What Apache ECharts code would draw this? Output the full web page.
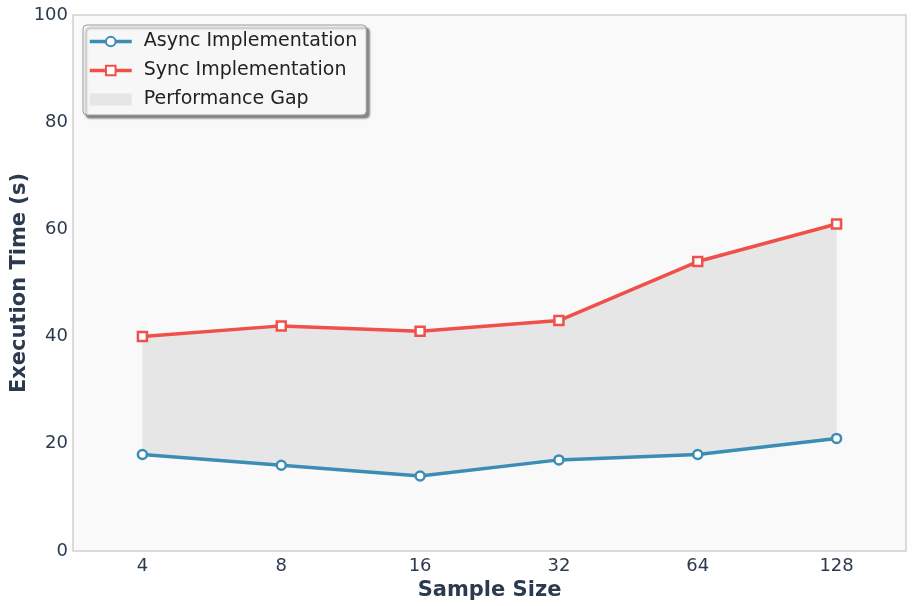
<!DOCTYPE html>
<html>
<head>
<meta charset="utf-8">
<script src="https://cdn.jsdelivr.net/npm/echarts@6/dist/echarts.min.js"></script>
<style>
  html, body { margin: 0; padding: 0; background: #fff; }
  #chart { width: 914px; height: 606px; }
</style>
</head>
<body>
<div id="chart"></div>
<script>
  const sampleSizes = ['4', '8', '16', '32', '64', '128'];
  const asyncTimes = [18, 16, 14, 17, 18, 21];
  const syncTimes = [40, 42, 41, 43, 54, 61];

  // gap band = sync - async, stacked on top of an invisible async base
  const gap = syncTimes.map((v, i) => v - asyncTimes[i]);

  const textColor = '#2b3a4e';
  const font = 'DejaVu Sans';
  const blue = '#3b8db5';
  const red = '#f0504a';

  const chart = echarts.init(document.getElementById('chart'));
  chart.setOption({
    animation: false,
    textStyle: { fontFamily: font },
    grid: {
      left: 73,
      right: 8,
      top: 15,
      bottom: 55,
      containLabel: false,
      outerBoundsMode: 'none',
      show: true,
      backgroundColor: '#f9f9f9',
      borderColor: '#cfcfcf',
      borderWidth: 1.5
    },
    legend: {
      orient: 'vertical',
      left: 83,
      top: 25,
      padding: [7, 9, 6, 5],
      itemGap: 10,
      itemWidth: 42,
      itemHeight: 12,
      backgroundColor: '#f7f7f7',
      borderColor: '#999',
      borderWidth: 1,
      borderRadius: 4,
      shadowColor: 'rgba(0,0,0,0.45)',
      shadowBlur: 2,
      shadowOffsetX: 3,
      shadowOffsetY: 3,
      textStyle: { fontFamily: font, fontSize: 19, color: '#222', padding: [0, 0, 0, 7] },
      data: [
        { name: 'Async Implementation', lineStyle: { width: 3.5 } },
        { name: 'Sync Implementation', lineStyle: { width: 3.5 } },
        { name: 'Performance Gap', icon: 'rect', itemStyle: { color: '#e6e6e6' } }
      ]
    },
    xAxis: {
      type: 'category',
      data: sampleSizes,
      boundaryGap: true,
      name: 'Sample Size',
      nameLocation: 'middle',
      nameGap: 28,
      nameTextStyle: { fontFamily: font, fontSize: 21, fontWeight: 'bold', color: textColor },
      axisLine: { show: false },
      axisTick: { show: false },
      axisLabel: { fontFamily: font, fontSize: 18, color: textColor, margin: 6 },
      splitLine: { show: false }
    },
    yAxis: {
      type: 'value',
      min: 0,
      max: 100,
      interval: 20,
      name: 'Execution Time (s)',
      nameLocation: 'middle',
      nameGap: 43,
      nameMoveOverlap: false,
      nameTextStyle: { fontFamily: font, fontSize: 21, fontWeight: 'bold', color: textColor },
      axisLine: { show: false },
      axisTick: { show: false },
      axisLabel: { fontFamily: font, fontSize: 18, color: textColor, margin: 5 },
      splitLine: { show: false }
    },
    series: [
      {
        name: 'gapBase',
        type: 'line',
        stack: 'gap',
        data: asyncTimes,
        symbol: 'none',
        lineStyle: { opacity: 0 },
        silent: true,
        z: 1
      },
      {
        name: 'Performance Gap',
        type: 'line',
        stack: 'gap',
        data: gap,
        symbol: 'none',
        lineStyle: { opacity: 0 },
        areaStyle: { color: '#e6e6e6', opacity: 1 },
        itemStyle: { color: '#e6e6e6' },
        silent: true,
        z: 1
      },
      {
        name: 'Async Implementation',
        type: 'line',
        data: asyncTimes,
        symbol: 'circle',
        symbolSize: 9,
        color: blue,
        lineStyle: { width: 3.5, color: blue },
        itemStyle: { color: '#ffffff', borderColor: blue, borderWidth: 2.5 },
        z: 3
      },
      {
        name: 'Sync Implementation',
        type: 'line',
        data: syncTimes,
        symbol: 'rect',
        symbolSize: 9,
        color: red,
        lineStyle: { width: 3.5, color: red },
        itemStyle: { color: '#ffffff', borderColor: red, borderWidth: 2.5 },
        z: 3
      }
    ]
  });
</script>
</body>
</html>
